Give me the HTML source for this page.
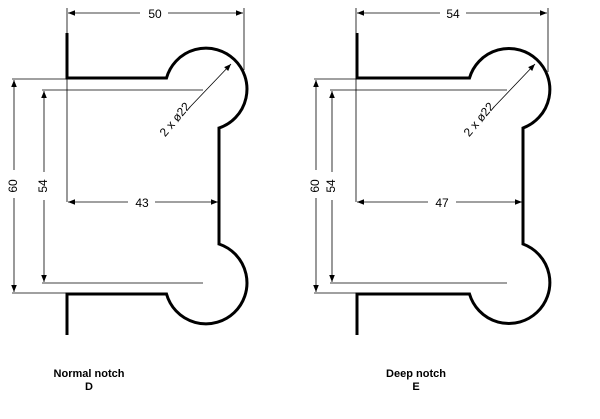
<!DOCTYPE html>
<html><head><style>
body{margin:0;background:#fff;}
svg{display:block;}
text{font-family:"Liberation Sans",Arial,sans-serif;}
</style></head><body>
<svg width="600" height="419" viewBox="0 0 600 419" xmlns="http://www.w3.org/2000/svg">
<defs>
<marker id="a" viewBox="0 0 10 10" refX="10" refY="5" markerWidth="9" markerHeight="7" orient="auto-start-reverse" markerUnits="userSpaceOnUse"><path d="M0,1 L10,5 L0,9 z" fill="#000"/></marker>
</defs>
<g fill="none" stroke="#000">
<path d="M67,33 V78 H166.5 A41,41 0 1 1 219,128 V244 A41,41 0 1 1 166.5,294 H67 V335" stroke-width="3"/>
<g stroke-width="0.8">
<line x1="67" y1="8" x2="67" y2="202"/>
<line x1="244" y1="8" x2="244" y2="70"/>
<line x1="68" y1="13" x2="140" y2="13" marker-start="url(#a)"/>
<line x1="168" y1="13" x2="243" y2="13" marker-end="url(#a)"/>
<line x1="12" y1="79" x2="67" y2="79"/>
<line x1="12" y1="293" x2="67" y2="293"/>
<line x1="14" y1="80" x2="14" y2="170" marker-start="url(#a)"/>
<line x1="14" y1="198" x2="14" y2="292" marker-end="url(#a)"/>
<line x1="42" y1="90" x2="203" y2="90"/>
<line x1="42" y1="283" x2="203" y2="283"/>
<line x1="44" y1="91" x2="44" y2="172" marker-start="url(#a)"/>
<line x1="44" y1="200" x2="44" y2="282" marker-end="url(#a)"/>
<line x1="68" y1="202" x2="128" y2="202" marker-start="url(#a)"/>
<line x1="155" y1="202" x2="218" y2="202" marker-end="url(#a)"/>
<line x1="190" y1="107" x2="231" y2="64" marker-end="url(#a)"/>
</g>
<path d="M357,33 V78 H469.5 A41,41 0 1 1 523,128 V244 A41,41 0 1 1 469.5,294 H357 V335" stroke-width="3"/>
<g stroke-width="0.8">
<line x1="356" y1="8" x2="356" y2="202"/>
<line x1="548" y1="8" x2="548" y2="72"/>
<line x1="357" y1="13" x2="440" y2="13" marker-start="url(#a)"/>
<line x1="466" y1="13" x2="547" y2="13" marker-end="url(#a)"/>
<line x1="314" y1="79" x2="357" y2="79"/>
<line x1="314" y1="293" x2="357" y2="293"/>
<line x1="316" y1="80" x2="316" y2="170" marker-start="url(#a)"/>
<line x1="316" y1="198" x2="316" y2="292" marker-end="url(#a)"/>
<line x1="330" y1="90" x2="507" y2="90"/>
<line x1="330" y1="283" x2="507" y2="283"/>
<line x1="332" y1="91" x2="332" y2="172" marker-start="url(#a)"/>
<line x1="332" y1="200" x2="332" y2="282" marker-end="url(#a)"/>
<line x1="357" y1="202" x2="428" y2="202" marker-start="url(#a)"/>
<line x1="456" y1="202" x2="522" y2="202" marker-end="url(#a)"/>
<line x1="494" y1="107" x2="535" y2="64" marker-end="url(#a)"/>
</g>
</g>
<g font-size="12" fill="#000" text-anchor="middle">
<text x="155" y="18">50</text>
<text x="142" y="207">43</text>
<text transform="translate(17,186) rotate(-90)">60</text>
<text transform="translate(47,186) rotate(-90)">54</text>
<text transform="translate(178,122) rotate(-50)">2 x ø22</text>
<text x="453" y="18">54</text>
<text x="442" y="207">47</text>
<text transform="translate(319,186) rotate(-90)">60</text>
<text transform="translate(335,186) rotate(-90)">54</text>
<text transform="translate(482,122) rotate(-50)">2 x ø22</text>
</g>
<g font-size="11" font-weight="bold" fill="#000" text-anchor="middle">
<text x="89" y="377">Normal notch</text>
<text x="89" y="390">D</text>
<text x="416" y="377">Deep notch</text>
<text x="416" y="390">E</text>
</g>
</svg>
</body></html>
